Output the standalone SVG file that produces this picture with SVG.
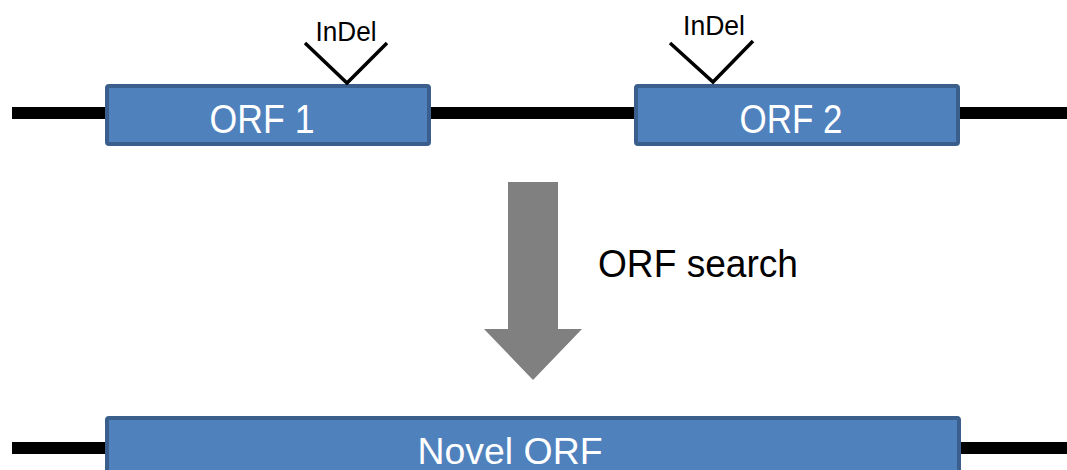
<svg xmlns="http://www.w3.org/2000/svg" width="1067" height="470" viewBox="0 0 1067 470">
  <style>
    .dna { stroke: #000; stroke-width: 12; fill: none; }
    .orf { fill: #4F81BD; stroke: #3A5F8D; stroke-width: 4; }
    .orf-label { font-family: "Liberation Sans", Arial, sans-serif; fill: #fff; text-anchor: middle; }
    .indel-label { font-family: "Liberation Sans", Arial, sans-serif; fill: #000; text-anchor: middle; font-size: 27px; }
    .indel-mark { stroke: #000; stroke-width: 3.5; fill: none; }
    .step-label { font-family: "Liberation Sans", Arial, sans-serif; fill: #000; font-size: 38px; }
  </style>

  <!-- DNA backbones and the search step arrow -->
  <g id="connectors">
    <line class="dna" x1="12" y1="113" x2="1067" y2="113"/>
    <line class="dna" x1="12" y1="448" x2="1067" y2="448"/>
    <polygon fill="#808080" points="508,182 558,182 558,329 582,329 533,380 484,329 508,329"/>
  </g>

  <g id="orf1">
    <rect class="orf" x="107" y="86" width="322" height="58" rx="2"/>
    <text class="orf-label" x="262" y="133" font-size="41" textLength="105" lengthAdjust="spacingAndGlyphs">ORF 1</text>
  </g>

  <g id="orf2">
    <rect class="orf" x="636" y="86" width="322" height="58" rx="2"/>
    <text class="orf-label" x="791" y="133" font-size="41" textLength="103" lengthAdjust="spacingAndGlyphs">ORF 2</text>
  </g>

  <g id="indel1">
    <polyline class="indel-mark" points="305,43 347,83 387,43"/>
    <text class="indel-label" x="346" y="41" textLength="61" lengthAdjust="spacingAndGlyphs">InDel</text>
  </g>

  <g id="indel2">
    <polyline class="indel-mark" points="670,43 713,82 753,41"/>
    <text class="indel-label" x="714" y="35" textLength="62" lengthAdjust="spacingAndGlyphs">InDel</text>
  </g>

  <g id="search-label">
    <text class="step-label" x="598" y="277" textLength="200" lengthAdjust="spacingAndGlyphs">ORF search</text>
  </g>

  <g id="novel-orf">
    <rect class="orf" x="107" y="418" width="852" height="70" rx="2"/>
    <text class="orf-label" x="510" y="464" font-size="37" textLength="185" lengthAdjust="spacingAndGlyphs">Novel ORF</text>
  </g>
</svg>
